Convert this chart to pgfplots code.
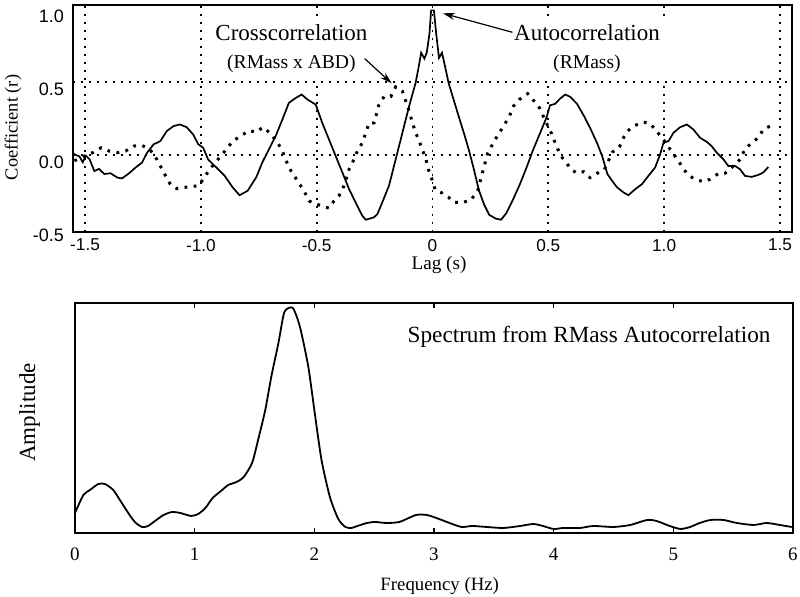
\documentclass[border=0pt]{standalone}
\usepackage{fontspec}
\setmainfont{Liberation Serif}
\newfontfamily\tsans{Liberation Sans}
\usepackage{pgfplots}
\pgfplotsset{compat=1.18}
\usetikzlibrary{arrows.meta}

\pgfplotstableread{
x y
-1.550 0.010
-1.540 0.000
-1.524 -0.010
-1.510 -0.050
-1.496 -0.005
-1.480 -0.030
-1.460 -0.110
-1.440 -0.095
-1.417 -0.130
-1.390 -0.125
-1.360 -0.155
-1.340 -0.160
-1.310 -0.125
-1.282 -0.086
-1.254 -0.052
-1.232 0.016
-1.204 0.073
-1.175 0.095
-1.147 0.164
-1.118 0.198
-1.090 0.209
-1.061 0.190
-1.033 0.140
-1.011 0.073
-0.990 0.050
-0.969 -0.030
-0.933 -0.086
-0.897 -0.143
-0.862 -0.223
-0.833 -0.275
-0.798 -0.245
-0.760 -0.150
-0.735 -0.052
-0.706 0.039
-0.677 0.130
-0.648 0.243
-0.620 0.357
-0.591 0.390
-0.565 0.414
-0.540 0.380
-0.504 0.345
-0.476 0.220
-0.447 0.107
-0.418 -0.007
-0.389 -0.120
-0.360 -0.234
-0.332 -0.325
-0.303 -0.416
-0.288 -0.443
-0.253 -0.427
-0.238 -0.405
-0.217 -0.325
-0.188 -0.211
-0.159 -0.030
-0.130 0.152
-0.101 0.334
-0.073 0.493
-0.060 0.600
-0.049 0.700
-0.035 0.660
-0.025 0.700
-0.013 0.830
-0.006 0.990
0.006 0.990
0.016 0.830
0.028 0.665
0.041 0.700
0.055 0.600
0.070 0.490
0.092 0.375
0.114 0.260
0.136 0.148
0.157 0.034
0.179 -0.100
0.200 -0.240
0.223 -0.340
0.245 -0.410
0.274 -0.436
0.296 -0.443
0.318 -0.400
0.347 -0.307
0.376 -0.205
0.405 -0.090
0.434 0.034
0.464 0.148
0.493 0.260
0.507 0.340
0.529 0.350
0.551 0.386
0.573 0.414
0.595 0.398
0.624 0.350
0.653 0.270
0.682 0.180
0.711 0.080
0.733 -0.010
0.755 -0.130
0.777 -0.180
0.796 -0.220
0.825 -0.257
0.846 -0.275
0.875 -0.234
0.904 -0.200
0.932 -0.143
0.961 -0.086
0.983 0.005
0.997 0.084
1.019 0.095
1.040 0.152
1.069 0.190
1.098 0.209
1.126 0.175
1.155 0.118
1.184 0.090
1.205 0.061
1.227 0.016
1.256 -0.030
1.277 -0.075
1.306 -0.075
1.328 -0.098
1.349 -0.143
1.378 -0.150
1.407 -0.136
1.428 -0.120
1.450 -0.082
}\autocorr

\pgfplotstableread{
x y
-1.546 -0.040
-1.503 -0.007
-1.467 0.016
-1.430 0.050
-1.396 0.027
-1.360 0.016
-1.325 0.027
-1.290 0.061
-1.254 0.066
-1.218 0.034
-1.190 -0.030
-1.160 -0.120
-1.132 -0.200
-1.104 -0.230
-1.075 -0.223
-1.047 -0.216
-1.011 -0.211
-0.990 -0.166
-0.962 -0.098
-0.926 -0.030
-0.890 0.039
-0.862 0.095
-0.819 0.140
-0.790 0.168
-0.763 0.155
-0.732 0.190
-0.706 0.157
-0.670 0.089
-0.648 0.027
-0.620 -0.086
-0.583 -0.177
-0.555 -0.245
-0.533 -0.314
-0.504 -0.336
-0.476 -0.348
-0.447 -0.364
-0.425 -0.314
-0.404 -0.280
-0.382 -0.211
-0.360 -0.098
-0.339 -0.030
-0.324 0.027
-0.303 0.084
-0.288 0.152
-0.274 0.220
-0.252 0.220
-0.231 0.345
-0.209 0.400
-0.180 0.400
-0.159 0.466
-0.130 0.436
-0.107 0.330
-0.090 0.240
-0.073 0.152
-0.058 0.100
-0.044 0.035
-0.030 -0.018
-0.018 -0.098
-0.004 -0.160
0.012 -0.240
0.041 -0.260
0.070 -0.290
0.092 -0.325
0.128 -0.325
0.165 -0.310
0.195 -0.245
0.216 -0.120
0.238 0.011
0.268 0.100
0.300 0.180
0.332 0.265
0.350 0.335
0.375 0.380
0.411 0.420
0.434 0.378
0.463 0.320
0.484 0.245
0.513 0.150
0.536 0.057
0.556 -0.010
0.600 -0.100
0.624 -0.125
0.653 -0.114
0.680 -0.155
0.711 -0.125
0.742 -0.100
0.777 0.020
0.807 0.055
0.825 0.120
0.843 0.165
0.870 0.200
0.911 0.225
0.940 0.215
0.961 0.175
0.995 0.110
1.026 0.039
1.047 -0.007
1.076 -0.075
1.098 -0.127
1.126 -0.160
1.170 -0.184
1.198 -0.166
1.234 -0.127
1.263 -0.125
1.292 -0.086
1.328 -0.030
1.349 0.039
1.378 0.084
1.407 0.118
1.428 0.175
1.457 0.198
}\crosscorr

\pgfplotstableread{
f a
0.00 20
0.07 38
0.125 43
0.195 49
0.25 49
0.32 43
0.375 33
0.445 20
0.50 11
0.56 6
0.61 7
0.68 13
0.74 18
0.81 21
0.88 20
0.97 17
1.03 19
1.09 25
1.15 35
1.23 43
1.28 48
1.35 51
1.41 56
1.48 70
1.53 93
1.59 123
1.64 156
1.70 190
1.75 221
1.82 225
1.88 206
1.95 166
2.00 123
2.06 73
2.13 36
2.20 14
2.26 6
2.31 5
2.36 7
2.44 10
2.51 11
2.60 10
2.71 11
2.85 18
2.94 18
3.02 15
3.13 10
3.23 6
3.32 7
3.44 6
3.58 5
3.72 7
3.83 9
3.91 7
4.00 4
4.08 5
4.22 5
4.33 7
4.50 6
4.64 8
4.78 13
4.86 12
4.97 7
5.06 4
5.14 6
5.22 10
5.31 13
5.42 13
5.53 10
5.67 8
5.78 10
5.89 8
5.99 6
}\spectrum

\begin{document}
\begin{tikzpicture}
% ---------- top: correlations ----------
\begin{axis}[
  scale only axis,
  width=359.5pt, height=113.5pt,
  at={(36.5pt,182.5pt)}, anchor=south west,
  xmin=-1.552, xmax=1.552,
  ymin=-0.527, ymax=1.027,
  axis line style={line width=1pt},
  major tick length=0pt,
  xtick={-1.5,-1,-0.5,0,0.5,1,1.5},
  xticklabels={-1.5,-1.0,-0.5,0,0.5,1.0,1.5},
  ytick={0,0.5},
  yticklabels={0.0,0.5},
  extra y ticks={-0.5,1},
  extra y tick labels={-0.5,1.0},
  extra y tick style={grid=none},
  grid=major,
  major grid style={line width=0.9pt, dash pattern=on 0.9pt off 3.1pt, black},
  xticklabel style={font=\fontsize{8.6}{10}\tsans, yshift=0pt},
  yticklabel style={font=\fontsize{9}{10}\tsans, yshift=-3.5pt, xshift=-1pt},
  /pgf/number format/assume math mode=true,
  xlabel={Lag (s)},
  ylabel={Coefficient (r)},
  xlabel style={font=\fontsize{9.6}{11}\selectfont, at={(axis description cs:0.509,-0.146)}, anchor=center},
  ylabel style={font=\fontsize{9.2}{11}\selectfont, at={(axis description cs:-0.0834,0.46)}, anchor=center},
  clip=true,
]
\addplot[black, line width=0.85pt] table[x=x,y=y] {\autocorr};
\addplot[black, line width=1.5pt, line cap=butt, dash pattern=on 1.4pt off 3.2pt] table[x=x,y=y] {\crosscorr};
\node[fill=white, inner sep=3.5pt, align=center] at (axis cs:-0.609,0.728)
  {\fontsize{11.5}{14}\selectfont Crosscorrelation\\[2pt]\fontsize{9.8}{12}\selectfont (RMass x ABD)};
\node[fill=white, inner sep=3.5pt, align=center] at (axis cs:0.667,0.728)
  {\fontsize{11.5}{14}\selectfont Autocorrelation\\[2pt]\fontsize{9.8}{12}\selectfont (RMass)};
\draw[line width=0.6pt, -{Stealth[length=6pt,width=3.5pt]}] (axis cs:-0.293,0.66) -- (axis cs:-0.176,0.49);
\draw[line width=0.6pt, -{Stealth[length=6pt,width=3.5pt]}] (axis cs:0.345,0.84) -- (axis cs:0.045,0.97);
\end{axis}
% ---------- bottom: spectrum ----------
\begin{axis}[
  scale only axis,
  width=359pt, height=115pt,
  at={(37.5pt,32pt)}, anchor=south west,
  xmin=0, xmax=6, ymin=0, ymax=230,
  axis line style={line width=1pt},
  xtick={0,1,2,3,4,5,6},
  ytick=\empty,
  tick align=inside,
  major tick length=2.5pt,
  tick style={line width=0.7pt, black},
  xtick pos=both,
  tick label style={font=\fontsize{9.5}{11}\selectfont},
  xticklabel style={yshift=-4pt},
  /pgf/number format/assume math mode=true,
  xlabel={Frequency (Hz)},
  ylabel={Amplitude},
  xlabel style={font=\fontsize{9.4}{11}\selectfont, at={(axis description cs:0.508,-0.232)}, anchor=center},
  ylabel style={font=\fontsize{11.5}{13}\selectfont, at={(axis description cs:-0.0634,0.524)}, anchor=center},
]
\addplot[black, line width=0.9pt, smooth, tension=0.4] table[x=f,y=a] {\spectrum};
\node[font=\fontsize{11.6}{13}\selectfont] at (axis description cs:0.716,0.852) {Spectrum from RMass Autocorrelation};
\end{axis}
\pgfresetboundingbox
\path[use as bounding box] (0,0) rectangle (400pt,298.5pt);
\end{tikzpicture}
\end{document}
